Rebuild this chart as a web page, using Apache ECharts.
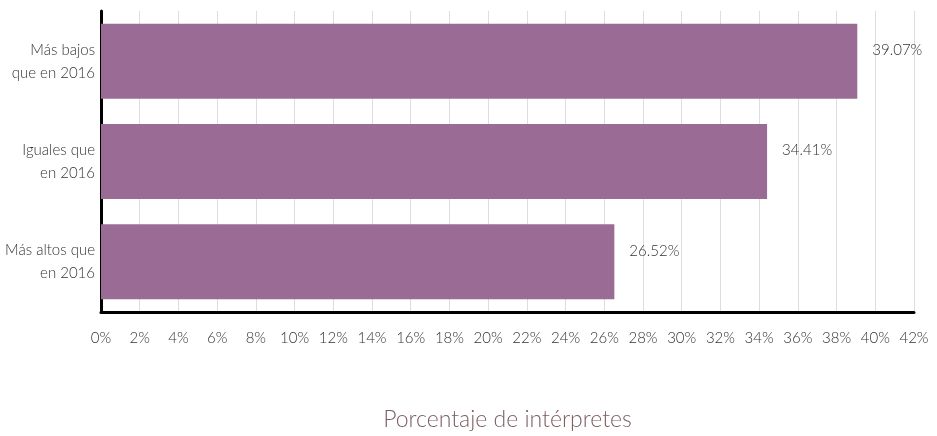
<!DOCTYPE html>
<html>
<head>
<meta charset="utf-8">
<script src="https://cdn.jsdelivr.net/npm/echarts@6/dist/echarts.min.js"></script>
<style>
  html, body { margin: 0; padding: 0; background: #fff; }
  #chart { width: 937px; height: 436px; }
</style>
</head>
<body>
<div id="chart"></div>
<script>
var categories = ['Más bajos\nque en 2016', 'Iguales que\nen 2016', 'Más altos que\nen 2016'];
var values = [39.07, 34.41, 26.52];

var Chart = echarts.init(document.getElementById('chart'));
var font = 'Lato, "Open Sans", sans-serif';

var option = {
	animation: false,
	grid: {
		left: 101,
		right: 23,
		top: 11,
		bottom: 121
	},
	xAxis: {
		type: 'value',
		min: 0,
		max: 42,
		interval: 2,
		name: 'Porcentaje de intérpretes',
		nameLocation: 'middle',
		nameGap: 96,
		nameTextStyle: { color: '#7b5d62', fontSize: 23, fontFamily: font, fontWeight: 300 },
		axisLine: { show: true, lineStyle: { color: '#000', width: 3 } },
		axisTick: { show: false },
		axisLabel: {
			formatter: '{value}%',
			color: '#333',
			fontSize: 15,
			fontFamily: font,
			fontWeight: 300,
			margin: 19
		},
		splitLine: { show: true, lineStyle: { color: '#dddddd', width: 1 } }
	},
	yAxis: {
		type: 'category',
		inverse: true,
		data: categories,
		axisLine: { show: true, lineStyle: { color: '#000', width: 3 } },
		axisTick: { show: false },
		axisLabel: {
			color: '#333',
			fontSize: 15,
			fontFamily: font,
			fontWeight: 300,
			lineHeight: 23,
			align: 'right',
			margin: 6
		}
	},
	series: [{
		type: 'bar',
		data: values,
		barWidth: 75,
		itemStyle: { color: '#9a6b94' },
		label: {
			show: true,
			position: 'right',
			distance: 15,
			offset: [0, -11],
			formatter: function (p) { return p.value.toFixed(2) + '%'; },
			color: '#333',
			fontSize: 15,
			fontFamily: font,
			fontWeight: 300
		}
	}]
};
Chart.setOption(option);
window.onresize = Chart.resize;
</script>
</body>
</html>
